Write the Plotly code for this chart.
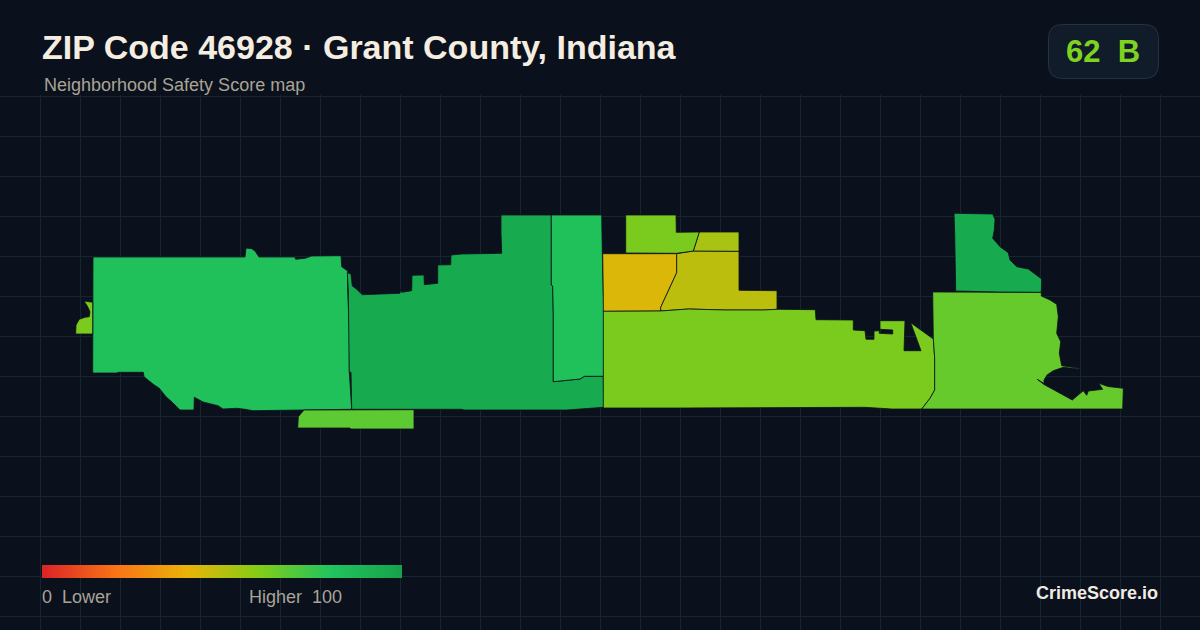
import plotly.graph_objects as go
from plotly.colors import sample_colorscale

W, H = 1200, 630
GRID_TOP = 95

# score scale used by the map and the legend bar
scale_stops = [
    [0.0, "#dc2626"], [0.2, "#f97316"], [0.4, "#eab308"],
    [0.6, "#84cc16"], [0.8, "#22c55e"], [1.0, "#16a34a"],
]
legend_values = list(range(0, 101))

west_block = [(93, 257), (245, 257), (246, 248), (251.7, 248.7), (255, 251), (259, 257), (295, 257), (295.7, 259.3),
              (305, 258.3), (311.7, 256), (341, 255.7), (341.7, 266.7), (347.7, 271), (347.7, 290), (349.3, 333),
              (349.3, 372), (351.7, 409.3), (270, 410), (253, 410.7), (245, 409.3), (236.7, 408.3), (223, 409),
              (218, 405.7), (203, 402), (194.3, 397.3), (194, 410), (180, 410), (171.7, 401.7), (166, 396.7),
              (159.3, 388.3), (153.3, 384.3), (144, 376.7), (143.3, 372.3), (118.3, 372.3), (117, 373), (92.7, 373)]
west_tip = [(84, 301), (92.7, 302.3), (92.7, 334), (75.7, 334), (76, 325), (79.3, 319.3), (85, 317.3), (89.3, 316.7),
            (90, 311.7), (87.3, 306)]
south_strip = [(304, 410), (298.3, 416.7), (297.7, 428), (350, 428), (350.3, 429), (414, 429), (414, 409.7)]
central_block = [(347.3, 272.7), (351, 274), (352.3, 286), (356.7, 289.3), (362.3, 294.7), (380, 294.3), (400, 293.3),
                 (400.7, 289), (401.7, 292.3), (411.7, 290.7), (412, 275.3), (424, 275), (424.3, 284.7),
                 (437.7, 283.3), (437.7, 265), (450.7, 264.7), (451, 255), (461.7, 254), (501.7, 253.3), (501, 233.3),
                 (501, 215), (551.3, 215), (551.3, 285), (552.7, 286), (553.3, 315), (553.3, 381.7), (560, 381),
                 (580, 379), (584.3, 376.3), (603.3, 376.3), (603.7, 407.3), (598.3, 407.7), (586.7, 408.3),
                 (566.7, 410), (464, 410), (461.7, 409.3), (351.7, 409.3), (351, 372.3), (349.3, 372.3),
                 (348.7, 326.7), (348.3, 290)]
central_strip = [(551.3, 215), (601.7, 215), (602.3, 253.3), (603, 296.7), (603.7, 311.3), (603.7, 376.3),
                 (584.3, 376.3), (580, 379), (560, 381), (553.3, 381.7), (553.3, 315), (552.7, 286), (551.3, 285)]
town_west = [(602.7, 253.7), (676.7, 253.7), (676.7, 272.7), (660.7, 307.3), (660.7, 311), (603.3, 311.3),
             (603.3, 296.7)]
town_east = [(676.7, 253.7), (681.7, 252.7), (693.3, 251), (739, 251.3), (739, 290.3), (777, 290.7), (777, 309.3),
             (763.3, 310), (725, 310), (688.3, 309), (663.3, 311), (660.7, 311), (660.7, 307.3), (676.7, 272.7)]
town_north = [(699.3, 232), (739, 232), (739, 251.3), (693.3, 251)]
town_top = [(625.7, 215), (676, 215), (676.3, 232.3), (686.7, 232.3), (699.3, 232), (693.3, 251), (681.7, 252.7),
            (676.7, 253.3), (625.7, 253)]
east_block = [(603.3, 311.3), (660.7, 311), (688.3, 309), (725, 310), (763.3, 310), (777, 309.3), (815.3, 309.7),
              (816, 319.7), (853.3, 320), (853.3, 330), (865, 330.7), (866, 339.3), (874, 339.3), (874, 331),
              (879.3, 330.7), (879.3, 333.3), (892.7, 334), (892.7, 330), (880, 329.3), (880, 320.7), (905, 320.7),
              (904, 350.7), (921, 350.7), (910.7, 322.7), (932.3, 338.3), (933.3, 338), (934.7, 358.3),
              (934.7, 390), (930, 398.3), (921.7, 409), (891.7, 409), (865, 407.3), (678.3, 408), (603.3, 408)]
far_east = [(932.7, 292), (999, 292), (1041.3, 292.3), (1041.3, 296), (1050, 300), (1056.7, 304.3), (1057.3, 311.7),
            (1058.3, 316.7), (1056.7, 333.3), (1060.7, 341.7), (1059.3, 353.3), (1061.7, 365.7), (1079.3, 368.3),
            (1079.3, 369), (1063.3, 367.3), (1053.3, 370.7), (1047, 375), (1044, 380), (1044, 383.5), (1037.3, 379.3),
            (1044, 384.5), (1072.3, 400), (1083.3, 390.7), (1086.7, 395.3), (1088.3, 391), (1102.7, 389.3),
            (1098.7, 383.3), (1108, 386.5), (1123.3, 388.3), (1122.7, 409), (921.7, 409), (930, 398.3), (934.7, 390),
            (934.7, 358.3), (933.3, 338), (932.7, 315)]
north_east = [(954, 213.3), (972.7, 213.7), (992.7, 214), (995, 219.3), (994.3, 230), (992.7, 238.3), (1000, 246.7),
              (1008.3, 252.7), (1010, 260), (1016.7, 266.7), (1028.3, 269), (1041.7, 279), (1041.3, 292.3),
              (999, 292), (955.7, 291), (954.7, 233.3)]

region_shapes = [west_block, west_tip, south_strip, central_block, central_strip, town_west, town_east, town_north,
                 town_top, east_block, far_east, north_east]
region_scores = [83, 62, 68, 96, 83, 43, 49, 53, 62, 62, 66, 96]

fig = go.Figure()

# map tracts, coloured from the score scale
for outline, score in zip(region_shapes, region_scores):
    color = sample_colorscale(scale_stops, score / 100)[0]
    fig.add_trace(go.Scatter(
        x=[p[0] for p in outline] + [outline[0][0]],
        y=[p[1] for p in outline] + [outline[0][1]],
        mode="lines",
        fill="toself",
        fillcolor=color,
        line=dict(color="#0a111c", width=0.8),
        text=f"Score {score}",
        hoverinfo="text",
        showlegend=False,
    ))

# legend gradient, x and y are cell edges here
fig.add_trace(go.Heatmap(
    z=[legend_values, legend_values],
    x=[42 + 360 * i / 101 for i in range(102)],
    y=[565, 571.5, 578],
    colorscale=scale_stops,
    zmin=0,
    zmax=100,
    zsmooth="best",
    showscale=False,
    hoverinfo="skip",
))


def py(y):
    return 1 - y / H


def label(x, y, text, size, color, bold=False, anchor="left"):
    fig.add_annotation(
        x=x / W, y=py(y), xref="paper", yref="paper",
        text=f"<b>{text}</b>" if bold else text,
        showarrow=False, xanchor=anchor, yanchor="middle",
        xshift=0, borderpad=0, borderwidth=0,
        font=dict(family="Liberation Sans", size=size, color=color),
    )


label(42, 47, "ZIP Code 46928 · Grant County, Indiana", 34, "#f5ede0", bold=True)
label(44, 85, "Neighborhood Safety Score map", 18, "#a9a397")
label(1103, 51, "62\u00a0\u00a0B", 31, "#7ed321", bold=True, anchor="center")
label(42, 597, "0\u00a0\u00a0Lower", 18, "#a9a397")
label(342, 597, "Higher\u00a0\u00a0100", 18, "#a9a397", anchor="right")
label(1158, 593, "CrimeScore.io", 18, "#f0ebe3", bold=True, anchor="right")

# score badge
bx0, bx1, by0, by1, br = 1048.5, 1158.5, 24.5, 78.5, 14
fig.add_shape(
    type="path",
    xref="paper", yref="paper",
    path=(
        f"M {(bx0 + br) / W} {py(by0)} L {(bx1 - br) / W} {py(by0)} "
        f"Q {bx1 / W} {py(by0)} {bx1 / W} {py(by0 + br)} L {bx1 / W} {py(by1 - br)} "
        f"Q {bx1 / W} {py(by1)} {(bx1 - br) / W} {py(by1)} L {(bx0 + br) / W} {py(by1)} "
        f"Q {bx0 / W} {py(by1)} {bx0 / W} {py(by1 - br)} L {bx0 / W} {py(by0 + br)} "
        f"Q {bx0 / W} {py(by0)} {(bx0 + br) / W} {py(by0)} Z"
    ),
    fillcolor="#111c2a",
    line=dict(color="#263242", width=1),
    layer="below",
)

fig.update_layout(
    width=W,
    height=H,
    margin=dict(l=0, r=0, t=0, b=0),
    paper_bgcolor="#0a111c",
    plot_bgcolor="#0a111c",
    showlegend=False,
    xaxis=dict(
        range=[0, W], tick0=0.5, dtick=40, showgrid=True, gridcolor="#172531", gridwidth=1,
        zeroline=False, showticklabels=False, ticks="", fixedrange=True,
    ),
    yaxis=dict(
        range=[H, GRID_TOP], domain=[0, (H - GRID_TOP) / H], tick0=96.5, dtick=40, showgrid=True,
        gridcolor="#172531", gridwidth=1, zeroline=False, showticklabels=False, ticks="", fixedrange=True,
    ),
)

# browser default body margin would shift the page by 8px
fig.write_html(
    "out.html",
    config={"displayModeBar": False},
    post_script="document.body.style.margin = '0'; document.body.style.background = '#0a111c';",
)
